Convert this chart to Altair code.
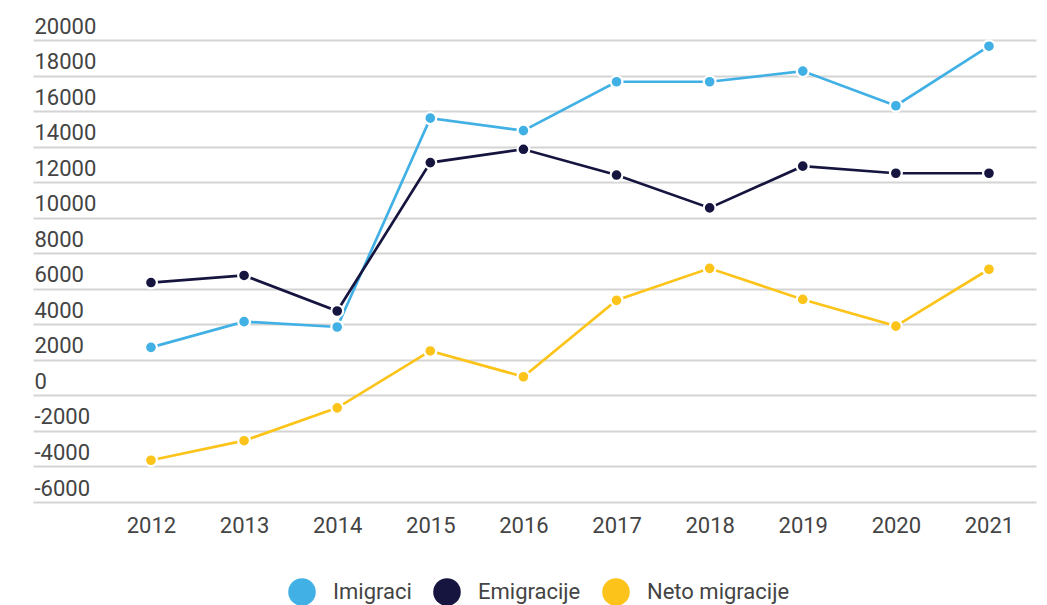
import altair as alt
import pandas as pd

years = [2012, 2013, 2014, 2015, 2016, 2017, 2018, 2019, 2020, 2021]
imigraci = [2700, 4150, 3850, 15600, 14900, 17650, 17650, 18250, 16300, 19650]
emigracije = [6350, 6750, 4750, 13100, 13850, 12400, 10550, 12900, 12500, 12500]
neto = [-3650, -2550, -700, 2500, 1050, 5350, 7150, 5400, 3900, 7100]

series_names = ["Imigraci", "Emigracije", "Neto migracije"]
series_colors = ["#41b0e4", "#15153f", "#fcc41a"]

rows = []
for name, vals in zip(series_names, [imigraci, emigracije, neto]):
    for yr, v in zip(years, vals):
        rows.append({"year": yr, "value": v, "series": name})
df = pd.DataFrame(rows)

x = alt.X("year:Q", title=None,
          scale=alt.Scale(domain=[2010.733, 2021.505], nice=False, zero=False),
          axis=alt.Axis(values=years, format="d", domain=False, ticks=False, grid=False,
                        labelPadding=13, labelBaseline="top", labelFlush=False,
                        labelFontSize=22, labelColor="#444444", labelFont="Roboto"))
y = alt.Y("value:Q", title=None,
          scale=alt.Scale(domain=[-6000, 20000], nice=False, zero=False),
          axis=alt.Axis(values=list(range(-6000, 20001, 2000)), domain=False, ticks=False,
                        grid=True, gridColor="#d4d4d4", gridWidth=2,
                        labelExpr="datum.value + ''",
                        labelAlign="left", labelPadding=-1, labelBaseline="alphabetic",
                        labelOffset=-7, labelFontSize=22, labelColor="#444444",
                        labelFont="Roboto", labelFlush=False))
legend = alt.Legend(title=None, orient="none", direction="horizontal",
                    legendX=255, legendY=538, symbolType="circle",
                    symbolSize=760, symbolStrokeWidth=0, symbolOpacity=1,
                    labelFontSize=22, labelFont="Roboto", labelColor="#444444",
                    columnPadding=21, labelOffset=17, padding=0)
color = alt.Color("series:N", scale=alt.Scale(domain=series_names, range=series_colors),
                  legend=legend)

lines = alt.Chart(df).mark_line(strokeWidth=2.7).encode(
    x=x, y=y, color=color, detail="series:N",
)
points = alt.Chart(df).mark_circle(size=140, stroke="white", strokeWidth=2.2, opacity=1).encode(
    x=x, y=y, color=color,
)

chart = alt.layer(lines, points).properties(
    width=1003, height=462,
    autosize=alt.AutoSizeParams(type="none"),
    padding={"left": 25, "top": 32, "right": 3, "bottom": 103},
).configure_view(stroke=None)

chart.save("out.html", embed_options={"renderer": "svg", "actions": False})
